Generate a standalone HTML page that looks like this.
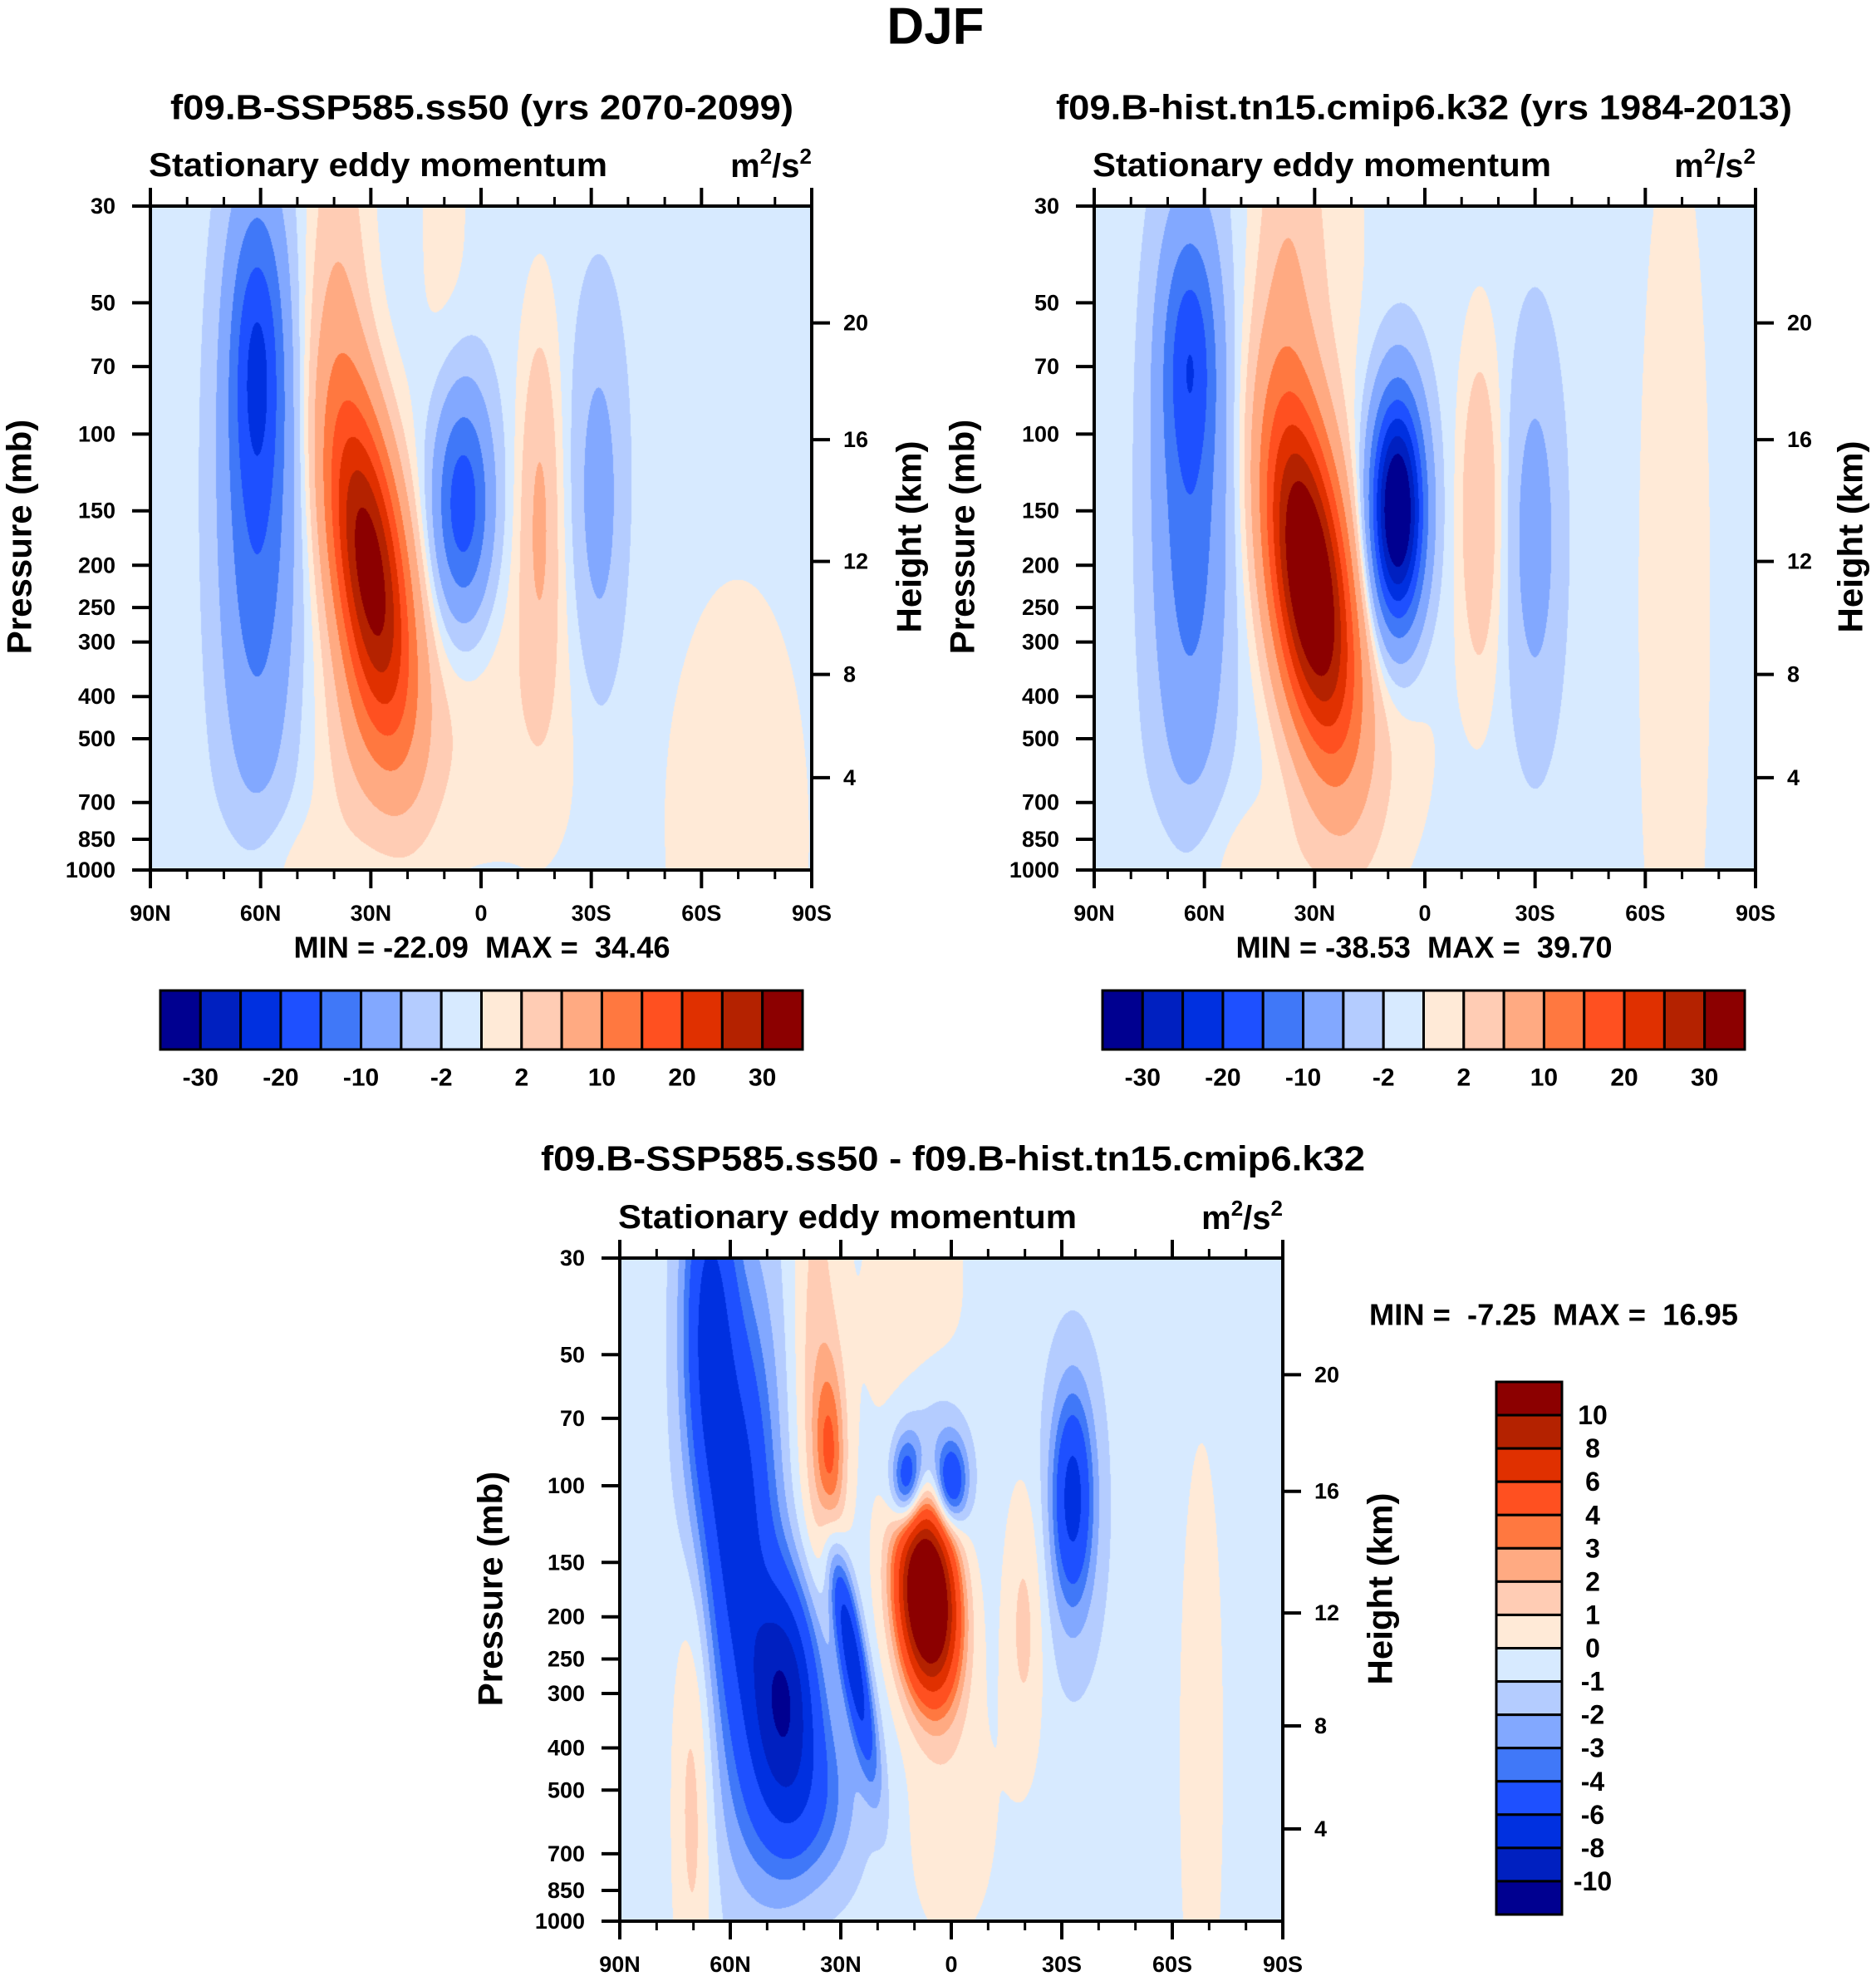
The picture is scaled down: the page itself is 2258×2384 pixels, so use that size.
<!DOCTYPE html>
<html><head><meta charset="utf-8"><style>
html,body{margin:0;padding:0;background:#fff;}
#wrap{position:relative;width:2258px;height:2384px;overflow:hidden;background:#fff;}
canvas{position:absolute;}
svg{position:absolute;left:0;top:0;}
text{font-family:"Liberation Sans",Arial,sans-serif;font-weight:bold;fill:#000;white-space:pre;}
</style></head><body>
<div id="wrap">
<canvas id="c1"></canvas>
<canvas id="c2"></canvas>
<canvas id="c3"></canvas>
<svg id="s" width="2258" height="2384"></svg>
</div>
<script>
// ---------- data ----------
const colors = ["#000090","#0020c0","#0030e0","#1e50ff","#4078f8","#82a8ff","#b4ccff","#d7eaff","#ffead7","#ffccb4","#ffaa82","#ff7840","#ff5020","#e03000","#b42200","#8c0000"];
const levelsAbs = [-30,-25,-20,-15,-10,-5,-2,0,2,5,10,15,20,25,30];
const levelsDiff = [-10,-8,-6,-4,-3,-2,-1,0,1,2,3,4,6,8,10];
const absLabels = ["-30","-20","-10","-2","2","10","20","30"];
const diffLabels = ["10","8","6","4","3","2","1","0","-1","-2","-3","-4","-6","-8","-10"];
const pressureTicks = [30,50,70,100,150,200,250,300,400,500,700,850,1000];
const heightTicks = [20,16,12,8,4];
const heightTickPressure = [55.6,103,196,356,614];
const latTicks = [90,60,30,0,-30,-60,-90];
const latLabels = ["90N","60N","30N","0","30S","60S","90S"];
// blobs: [lat, z(logp 0..1), amplitude, sigmaLat, sigmaZ, tilt]
const blobs1 = [
 [61,0.22,-11,5,0.15,0],
 [61,0.45,-13,7,0.3,0],
 [30,0.55,34,7,0.18,-20],
 [39,0.15,5,6,0.28,0],
 [34,0.82,3,8,0.12,0],
 [5,0.45,-18,5.5,0.12,0],
 [-16,0.45,6,4,0.2,0],
 [-32,0.45,-6,5,0.2,0],
 [-70,0.95,2.3,15,0.3,0],
 [-15,0.75,1.8,14,0.2,0],
 [12,0.78,2.2,12,0.15,0],
 [55,1.0,2.4,12,0.07,0],
 [10,0.05,1.6,6,0.3,0]
];
const base1 = -1;
const blobs2 = [
 [64,0.22,-10,5,0.12,0],
 [64,0.45,-12,7,0.3,0],
 [31,0.57,40,7.5,0.18,-20],
 [38,0.15,4.5,6,0.3,0],
 [7.5,0.46,-38,5,0.12,0],
 [-15,0.46,6,4,0.18,0],
 [-30,0.5,-6,5,0.2,0],
 [-68,0.6,2.1,8,0.6,0],
 [28,0.1,2,10,0.3,0],
 [12,0.8,2.2,12,0.15,0],
 [50,1.0,2.2,20,0.08,0]
];
const base2 = -1;
const blobs3 = [
 [66,0.1,-5.5,5,0.2,0],
 [58,0.4,-4.5,6,0.2,0],
 [45,0.65,-8,7,0.12,0],
 [27,0.6,-7,2.5,0.12,-30],
 [40,0.82,-3.5,10,0.1,0],
 [55,0.45,-2,10,0.4,0],
 [6.5,0.51,17,5.5,0.1,-10],
 [33,0.3,3.6,3,0.1,0],
 [37,0.2,2.2,5,0.35,0],
 [12,0.34,-6,3,0.05,0],
 [0,0.34,-5,3,0.045,0],
 [6,0.31,-2.5,7,0.1,0],
 [-33,0.36,-4.5,3.5,0.1,0],
 [-33,0.38,-2,6,0.17,0],
 [70,0.8,2.2,4,0.25,0],
 [-20,0.55,1.8,4,0.15,0],
 [10,0.1,1.3,10,0.25,0],
 [-68,0.75,1,5,0.4,0],
 [0,0.85,1,10,0.15,0]
];
const base3 = -0.5;

// ---------- helpers ----------
const NS="http://www.w3.org/2000/svg";
const svg=document.getElementById('s');
function el(tag,attrs,parent){const e=document.createElementNS(NS,tag);for(const k in attrs)e.setAttribute(k,attrs[k]);(parent||svg).appendChild(e);return e;}
function txt(str,x,y,size,anchor,extra){const t=el('text',Object.assign({x:x,y:y,'font-size':size,'text-anchor':anchor||'middle','dominant-baseline':'central'},extra||{}));t.textContent=str;return t;}
const zOf=p=>Math.log(p/30)/Math.log(1000/30);
function colorIdx(v,lv){let i=0;while(i<lv.length&&v>=lv[i])i++;return i;}
function hex(c){return [parseInt(c.substr(1,2),16),parseInt(c.substr(3,2),16),parseInt(c.substr(5,2),16)];}
const rgb=colors.map(hex);

function drawField(id,P,blobs,base,lv){
 const c=document.getElementById(id);c.width=P.w;c.height=P.h;c.style.left=P.x+'px';c.style.top=P.y+'px';
 const ctx=c.getContext('2d');const img=ctx.createImageData(P.w,P.h);const d=img.data;
 for(let j=0;j<P.h;j++){const z=j/(P.h-1);
  for(let i=0;i<P.w;i++){const lat=90-180*i/(P.w-1);let v=base;
   for(const b of blobs){const lc=b[0]+b[5]*(z-b[1]);const dl=(lat-lc)/b[3],dz=(z-b[1])/b[4];const e=0.5*(dl*dl+dz*dz);if(e<12)v+=b[2]*Math.exp(-e);}
   const col=rgb[colorIdx(v,lv)];const k=(j*P.w+i)*4;d[k]=col[0];d[k+1]=col[1];d[k+2]=col[2];d[k+3]=255;}}
 ctx.putImageData(img,0,0);
}

function axes(P,name,fs){
 const g=el('g',{});
 
 
 el('rect',{x:P.x,y:P.y,width:P.w,height:P.h,fill:'none',stroke:'#000','stroke-width':4},g);
 const X=lat=>P.x+(90-lat)/180*P.w;
 for(let lat=90;lat>=-90;lat-=10){const major=lat%30===0;const L=major?22:11;
  el('line',{x1:X(lat),x2:X(lat),y1:P.y,y2:P.y-L,stroke:'#000','stroke-width':major?4:3},g);
  el('line',{x1:X(lat),x2:X(lat),y1:P.y+P.h,y2:P.y+P.h+L,stroke:'#000','stroke-width':major?4:3},g);}
 latTicks.forEach((lat,i)=>{const t=txt(latLabels[i],X(lat),P.y+P.h+52,fs);
  
  });
 pressureTicks.forEach(p=>{const y=P.y+zOf(p)*P.h;
  el('line',{x1:P.x-22,x2:P.x,y1:y,y2:y,stroke:'#000','stroke-width':4},g);
  const t=txt(String(p),P.x-42,y,fs,'end');
  
  });
 heightTicks.forEach((h,i)=>{const y=P.y+zOf(heightTickPressure[i])*P.h;
  el('line',{x1:P.x+P.w,x2:P.x+P.w+22,y1:y,y2:y,stroke:'#000','stroke-width':4},g);
  const t=txt(String(h),P.x+P.w+38,y,fs,'start');
  
  });
}

// ---------- panels ----------
const P1={x:181,y:248,w:796,h:799};
const P2={x:1317,y:248,w:796,h:799};
const P3={x:746,y:1514,w:798,h:798};
drawField('c1',P1,blobs1,base1,levelsAbs);
drawField('c2',P2,blobs2,base2,levelsAbs);
drawField('c3',P3,blobs3,base3,levelsDiff);
axes(P1,'ssp585',27);
axes(P2,'hist',27);
axes(P3,'difference',27);

let t;
t=txt('DJF',1126,32,62);


t=txt('f09.B-SSP585.ss50 (yrs 2070-2099)',580,129,42,'middle',{textLength:750,lengthAdjust:'spacingAndGlyphs'});


t=txt('f09.B-hist.tn15.cmip6.k32 (yrs 1984-2013)',1714,129,42,'middle',{textLength:886,lengthAdjust:'spacingAndGlyphs'});


t=txt('f09.B-SSP585.ss50 - f09.B-hist.tn15.cmip6.k32',1147,1394,42,'middle',{textLength:992,lengthAdjust:'spacingAndGlyphs'});



[[P1,199],[P2,199],[P3,1465]].forEach((a)=>{const P=a[0];
 t=txt('Stationary eddy momentum',P.x-2,a[1],40,'start',{textLength:552,lengthAdjust:'spacingAndGlyphs'});
 
 
 const u=el('text',{x:P.x+P.w,y:a[1]+14,'font-size':40,'text-anchor':'end'});
 
 
 u.innerHTML='m<tspan dy="-16" font-size="26">2</tspan><tspan dy="16">/s</tspan><tspan dy="-16" font-size="26">2</tspan>';
});

[[23,646],[1158,646],[590,1912]].forEach(a=>{
 t=txt('Pressure (mb)',a[0],a[1],42,'middle',{transform:`rotate(-90 ${a[0]} ${a[1]})`});
 
 });
[[1094,646],[2227,646],[1661,1912]].forEach(a=>{
 t=txt('Height (km)',a[0],a[1],42,'middle',{transform:`rotate(-90 ${a[0]} ${a[1]})`});
 
 });

t=txt('MIN = -22.09  MAX =  34.46',580,1140,36,'middle',{textLength:453,lengthAdjust:'spacingAndGlyphs'});


t=txt('MIN = -38.53  MAX =  39.70',1714,1140,36,'middle',{textLength:453,lengthAdjust:'spacingAndGlyphs'});


t=txt('MIN =  -7.25  MAX =  16.95',1870,1582,36,'middle',{textLength:444,lengthAdjust:'spacingAndGlyphs'});



function hbar(x0,x1,y0,y1,name){const g=el('g',{});
 
 
 const bw=(x1-x0)/colors.length;
 colors.forEach((c,i)=>{const r=el('rect',{x:x0+i*bw,y:y0,width:bw,height:y1-y0,fill:c,stroke:'#000','stroke-width':3},g);
  
  });
 absLabels.forEach((l,k)=>{const tt=txt(l,x0+(2*k+1)*bw,1297,30,'middle',{});
  
  g.appendChild(tt);});
}
hbar(193,966,1192,1263,'colorbar-panel1');
hbar(1327,2100,1192,1263,'colorbar-panel2');
(function(){const g=el('g',{});
 
 
 const x0=1801,x1=1880,y0=1663,y1=2304;const bh=(y1-y0)/colors.length;
 colors.slice().reverse().forEach((c,i)=>{const r=el('rect',{x:x0,y:y0+i*bh,width:x1-x0,height:bh,fill:c,stroke:'#000','stroke-width':3},g);
  
  });
 diffLabels.forEach((l,k)=>{const tt=txt(l,1917,y0+(k+1)*bh,32,'middle',{});
  
  g.appendChild(tt);});
})();
</script>
</body></html>
